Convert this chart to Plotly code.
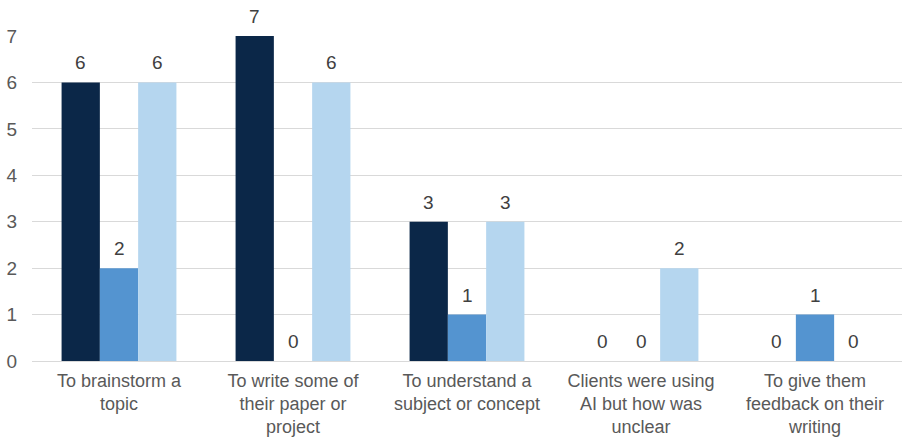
import plotly.graph_objects as go

categories = [
    "To brainstorm a<br>topic",
    "To write some of<br>their paper or<br>project",
    "To understand a<br>subject or concept",
    "Clients were using<br>AI but how was<br>unclear",
    "To give them<br>feedback on their<br>writing",
]
series_a = [6, 7, 3, 0, 0]
series_b = [2, 0, 1, 0, 1]
series_c = [6, 6, 3, 2, 0]
colors = ["#0B2748", "#5494D0", "#B5D6EF"]

BARGAP = 0.34
FONT = 19
all_series = [series_a, series_b, series_c]

fig = go.Figure()
for vals, col in zip(all_series, colors):
    fig.add_trace(go.Bar(
        x=categories, y=vals, marker_color=col, marker_line_width=0,
        showlegend=False, cliponaxis=False,
    ))

# value labels above each bar, placed at the grouped bar centres
n = len(all_series)
bar_w = (1 - BARGAP) / n
for s, vals in enumerate(all_series):
    offset = (s - (n - 1) / 2) * bar_w
    for i, v in enumerate(vals):
        fig.add_annotation(
            x=i + offset, y=v, text=str(v), showarrow=False,
            xref="x", yref="y", yanchor="bottom", yshift=7,
            font=dict(size=FONT, color="#404040"),
        )

fig.update_layout(
    width=902, height=440,
    margin=dict(l=32, r=0, t=36, b=79),
    barmode="group", bargap=BARGAP, bargroupgap=0,
    plot_bgcolor="white", paper_bgcolor="white",
    font=dict(family="Liberation Sans, Arial, sans-serif", size=FONT, color="#595959"),
)
fig.update_yaxes(range=[0, 7], dtick=1, showgrid=True, gridcolor="#D9D9D9",
                 gridwidth=1, zeroline=False, showline=False, automargin=False,
                 tickfont=dict(size=FONT, color="#595959"), ticklabelstandoff=14)
fig.update_xaxes(showline=True, linecolor="#D9D9D9", linewidth=1,
                 tickfont=dict(size=18, color="#595959"), ticks="",
                 ticklabelstandoff=3, automargin=False)
fig.write_html("out.html")
